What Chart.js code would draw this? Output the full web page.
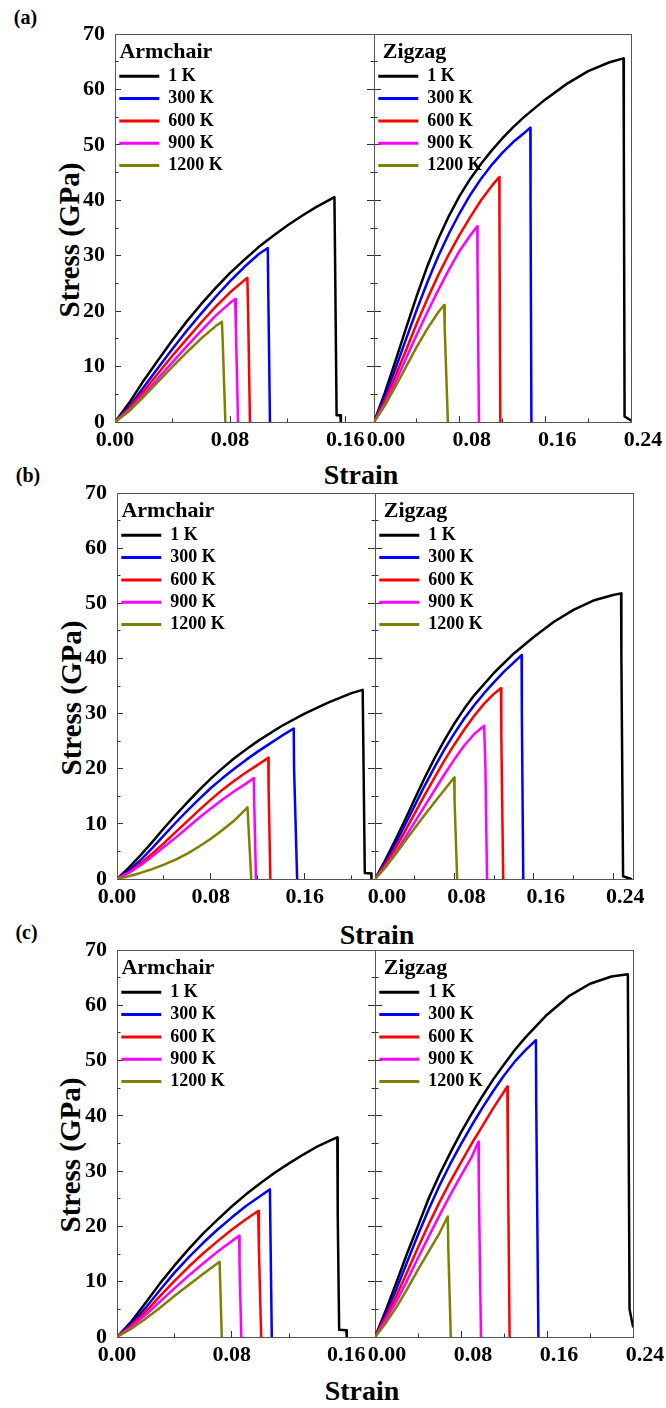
<!DOCTYPE html>
<html><head><meta charset="utf-8">
<script src="https://cdn.jsdelivr.net/npm/chart.js@4/dist/chart.umd.min.js"></script>
<style>
html,body{margin:0;padding:0;background:#fff;width:666px;height:1408px;overflow:hidden;position:relative;font-family:"Liberation Serif","Times New Roman",serif;}
canvas{position:absolute;}
.lbl{position:absolute;font-weight:bold;color:#000;white-space:nowrap;line-height:1;transform:translate(-50%,-50%);}
.rot{transform:translate(-50%,-50%) rotate(-90deg);}
</style></head><body>
<div class="lbl" style="left:25.5px;top:17px;font-size:20px">(a)</div>
<div class="lbl" style="left:28px;top:475px;font-size:20px">(b)</div>
<div class="lbl" style="left:26.5px;top:932px;font-size:20px">(c)</div>
<div class="lbl" style="left:361px;top:475px;font-size:28px">Strain</div>
<div class="lbl" style="left:377px;top:935px;font-size:28px">Strain</div>
<div class="lbl" style="left:362px;top:1391px;font-size:28px">Strain</div>
<div class="lbl rot" style="left:69px;top:240px;font-size:29px">Stress (GPa)</div>
<div class="lbl rot" style="left:71px;top:698px;font-size:29px">Stress (GPa)</div>
<div class="lbl rot" style="left:70px;top:1155px;font-size:29px">Stress (GPa)</div>
<script>
// ---------- labels & ticks ----------
const temps = ['1 K', '300 K', '600 K', '900 K', '1200 K'];
const colors = ['#000000', '#0000ff', '#ff0000', '#ff00ff', '#808000'];
const yMajor = [0, 10, 20, 30, 40, 50, 60, 70];
const yMinor = [5, 15, 25, 35, 45, 55, 65];
const xMajor018 = [0, 0.08, 0.16];
const xMinor018 = [0.04, 0.12];
const xMajor022 = [0, 0.08, 0.16];
const xMinor022 = [0.04, 0.12, 0.20];
const xMajor024 = [0, 0.08, 0.16, 0.24];
const xMinor024 = [0.04, 0.12, 0.20];
const xMajor026 = [0, 0.08, 0.16, 0.24];
const xMinor026 = [0.04, 0.12, 0.20];

// ---------- (a) Armchair: [strain, stress GPa] ----------
const aArm1K = [[0,0],[0.01,3.5],[0.02,7.5],[0.03,11.2],[0.04,14.8],[0.05,18.2],[0.06,21.3],[0.07,24.2],[0.08,26.9],[0.09,29.3],[0.10,31.6],[0.11,33.6],[0.12,35.5],[0.13,37.2],[0.14,38.8],[0.15,40.2],[0.1525,40.6],[0.1530,28],[0.1540,1.2],[0.1565,1.2],[0.1570,0]];
const aArm300K = [[0,0],[0.01,2.8],[0.02,6.3],[0.03,9.8],[0.04,13.2],[0.05,16.5],[0.06,19.6],[0.07,22.6],[0.08,25.4],[0.09,28.0],[0.10,30.3],[0.1062,31.4],[0.1065,24],[0.1077,0]];
const aArm600K = [[0,0],[0.01,2.5],[0.02,5.6],[0.03,8.8],[0.04,12.0],[0.05,15.0],[0.06,18.0],[0.07,20.8],[0.08,23.4],[0.09,25.6],[0.092,26.0],[0.0925,20],[0.0938,0]];
const aArm900K = [[0,0],[0.01,2.2],[0.02,5.0],[0.03,7.9],[0.04,10.8],[0.05,13.7],[0.06,16.5],[0.07,19.2],[0.08,21.5],[0.0835,22.2],[0.0840,17],[0.0855,0]];
const aArm1200K = [[0,0],[0.01,2.0],[0.02,4.6],[0.03,7.3],[0.04,10.0],[0.05,12.6],[0.06,15.1],[0.07,17.3],[0.0743,18.1],[0.0748,15],[0.0767,0]];
// ---------- (a) Zigzag ----------
const aZig1K = [[0,0],[0.01,5.2],[0.02,11.0],[0.03,17.0],[0.04,22.8],[0.05,28.2],[0.06,33.0],[0.07,37.2],[0.08,40.8],[0.09,43.9],[0.10,46.6],[0.11,49.0],[0.12,51.2],[0.13,53.2],[0.14,55.0],[0.16,58.2],[0.18,61.0],[0.20,63.3],[0.22,64.9],[0.233,65.6],[0.2333,50],[0.234,1],[0.24,0.3]];
const aZig300K = [[0,0],[0.01,4.5],[0.02,9.6],[0.03,15.0],[0.04,20.3],[0.05,25.3],[0.06,29.9],[0.07,34.0],[0.08,37.7],[0.09,41.0],[0.10,43.9],[0.11,46.4],[0.12,48.6],[0.13,50.5],[0.14,52.1],[0.146,53.1],[0.1462,40],[0.147,0]];
const aZig600K = [[0,0],[0.01,3.8],[0.02,8.3],[0.03,13.0],[0.04,17.8],[0.05,22.3],[0.06,26.5],[0.07,30.3],[0.08,33.8],[0.09,37.0],[0.10,40.0],[0.11,42.6],[0.117,44.2],[0.1172,35],[0.118,0]];
const aZig900K = [[0,0],[0.01,3.2],[0.02,7.2],[0.03,11.5],[0.04,15.8],[0.05,19.9],[0.06,23.8],[0.07,27.5],[0.08,30.9],[0.09,33.7],[0.0965,35.3],[0.0967,28],[0.098,0]];
const aZig1200K = [[0,0],[0.01,2.9],[0.02,6.4],[0.03,10.0],[0.04,13.6],[0.05,16.9],[0.06,19.8],[0.0655,21.1],[0.066,17],[0.069,0]];
// ---------- (b) Armchair ----------
const bArm1K = [[0,0],[0.01,2.0],[0.02,4.3],[0.03,6.7],[0.04,9.2],[0.05,11.6],[0.06,13.9],[0.07,16.1],[0.08,18.2],[0.09,20.1],[0.10,21.9],[0.11,23.5],[0.12,25.0],[0.14,27.7],[0.16,30.0],[0.18,32.0],[0.20,33.7],[0.2095,34.3],[0.2100,25],[0.2113,1.1],[0.2168,1.0],[0.2170,0]];
const bArm300K = [[0,0],[0.01,1.5],[0.02,3.4],[0.03,5.6],[0.04,7.9],[0.05,10.2],[0.06,12.4],[0.07,14.5],[0.08,16.5],[0.09,18.3],[0.10,20.0],[0.11,21.6],[0.12,23.1],[0.13,24.5],[0.14,25.9],[0.1507,27.3],[0.1510,20],[0.1536,0]];
const bArm600K = [[0,0],[0.01,1.2],[0.02,2.8],[0.03,4.6],[0.04,6.5],[0.05,8.5],[0.06,10.5],[0.07,12.5],[0.08,14.4],[0.09,16.2],[0.10,17.8],[0.11,19.3],[0.12,20.7],[0.129,22.0],[0.1293,16],[0.1308,0]];
const bArm900K = [[0,0],[0.01,1.1],[0.02,2.5],[0.03,4.1],[0.04,5.8],[0.05,7.5],[0.06,9.3],[0.07,11.1],[0.08,12.8],[0.09,14.4],[0.10,15.9],[0.11,17.3],[0.1167,18.3],[0.1170,14],[0.1185,0]];
const bArm1200K = [[0,0],[0.01,0.5],[0.02,1.1],[0.03,1.8],[0.04,2.6],[0.05,3.5],[0.06,4.6],[0.07,5.9],[0.08,7.3],[0.09,8.9],[0.10,10.6],[0.1113,13.0],[0.1120,10],[0.1145,0]];
// ---------- (b) Zigzag ----------
const bZig1K = [[0,0],[0.01,3.3],[0.02,6.9],[0.03,10.6],[0.04,14.5],[0.05,18.3],[0.06,21.9],[0.07,25.2],[0.08,28.2],[0.09,30.9],[0.10,33.3],[0.12,37.4],[0.14,40.9],[0.16,43.9],[0.18,46.6],[0.20,48.8],[0.22,50.5],[0.24,51.5],[0.248,51.8],[0.2483,40],[0.250,0.5],[0.258,0]];
const bZig300K = [[0,0],[0.01,2.9],[0.02,6.2],[0.03,9.7],[0.04,13.3],[0.05,16.9],[0.06,20.3],[0.07,23.5],[0.08,26.4],[0.09,29.1],[0.10,31.5],[0.11,33.7],[0.12,35.7],[0.13,37.6],[0.14,39.3],[0.1477,40.6],[0.1480,30],[0.1494,0]];
const bZig600K = [[0,0],[0.01,2.5],[0.02,5.4],[0.03,8.6],[0.04,11.9],[0.05,15.2],[0.06,18.4],[0.07,21.5],[0.08,24.4],[0.09,27.1],[0.10,29.6],[0.11,31.8],[0.12,33.6],[0.127,34.6],[0.1273,26],[0.1292,0]];
const bZig900K = [[0,0],[0.01,2.1],[0.02,4.6],[0.03,7.4],[0.04,10.3],[0.05,13.2],[0.06,16.1],[0.07,19.0],[0.08,21.7],[0.09,24.2],[0.10,26.3],[0.11,27.8],[0.1113,20],[0.1129,0]];
const bZig1200K = [[0,0],[0.01,2.0],[0.02,4.3],[0.03,6.8],[0.04,9.2],[0.05,11.6],[0.06,13.9],[0.07,16.2],[0.0798,18.4],[0.0802,14],[0.0828,0]];
// ---------- (c) Armchair ----------
const cArm1K = [[0,0],[0.01,2.8],[0.02,6.2],[0.03,9.7],[0.04,12.9],[0.05,15.9],[0.06,18.7],[0.07,21.2],[0.08,23.6],[0.09,25.8],[0.10,27.8],[0.11,29.7],[0.12,31.4],[0.13,33.0],[0.14,34.5],[0.15,35.7],[0.1537,36.1],[0.1540,22],[0.1550,1.3],[0.1600,1.2],[0.1603,0]];
const cArm300K = [[0,0],[0.01,2.4],[0.02,5.3],[0.03,8.5],[0.04,11.6],[0.05,14.4],[0.06,17.0],[0.07,19.4],[0.08,21.6],[0.09,23.7],[0.10,25.5],[0.1067,26.7],[0.1070,20],[0.1080,0]];
const cArm600K = [[0,0],[0.01,2.1],[0.02,4.6],[0.03,7.4],[0.04,10.1],[0.05,12.7],[0.06,15.1],[0.07,17.3],[0.08,19.4],[0.09,21.3],[0.0985,22.8],[0.0990,16],[0.1006,0]];
const cArm900K = [[0,0],[0.01,1.8],[0.02,4.0],[0.03,6.4],[0.04,8.8],[0.05,11.1],[0.06,13.3],[0.07,15.4],[0.08,17.3],[0.0852,18.3],[0.0855,13],[0.0867,0]];
const cArm1200K = [[0,0],[0.01,1.5],[0.02,3.3],[0.03,5.3],[0.04,7.4],[0.05,9.4],[0.06,11.4],[0.0716,13.6],[0.0720,10],[0.0731,0]];
// ---------- (c) Zigzag ----------
const cZig1K = [[0,0],[0.01,4.8],[0.02,9.9],[0.03,15.2],[0.04,20.1],[0.05,25.1],[0.06,29.4],[0.07,33.3],[0.08,37.0],[0.09,40.4],[0.10,43.6],[0.11,46.6],[0.12,49.3],[0.13,51.9],[0.14,54.2],[0.16,58.3],[0.18,61.6],[0.20,63.9],[0.22,65.2],[0.2352,65.6],[0.2356,50],[0.2368,5],[0.24,1.9]];
const cZig300K = [[0,0],[0.01,4.2],[0.02,8.7],[0.03,13.6],[0.04,18.5],[0.05,23.1],[0.06,27.4],[0.07,31.3],[0.08,34.9],[0.09,38.3],[0.10,41.5],[0.11,44.5],[0.12,47.3],[0.13,49.8],[0.14,51.9],[0.1497,53.7],[0.1500,42],[0.1520,0]];
const cZig600K = [[0,0],[0.01,3.6],[0.02,7.5],[0.03,11.8],[0.04,16.2],[0.05,20.4],[0.06,24.4],[0.07,28.1],[0.08,31.6],[0.09,35.0],[0.10,38.2],[0.11,41.4],[0.1231,45.3],[0.1235,35],[0.1252,0]];
const cZig900K = [[0,0],[0.01,3.0],[0.02,6.5],[0.03,10.3],[0.04,14.3],[0.05,18.2],[0.06,22.0],[0.07,25.7],[0.08,29.2],[0.09,32.6],[0.0962,35.3],[0.0966,27],[0.0986,0]];
const cZig1200K = [[0,0],[0.01,2.5],[0.02,5.4],[0.03,8.7],[0.04,12.2],[0.05,15.5],[0.06,18.8],[0.0677,21.8],[0.0682,16],[0.0705,0]];

// ---------- layout (page pixels) ----------
const FONT = "'Liberation Serif', 'Times New Roman', serif";
const FRAME = '#555555';
const TICK = '#333333';
const tickFont = {family: FONT, size: 22, weight: 'bold'};

const panels = [
  {T: 34, B: 422, L: 115, D: 374, R: 631,
   arm: [aArm1K, aArm300K, aArm600K, aArm900K, aArm1200K], armMax: 0.18, armMajor: xMajor018, armMinor: xMinor018,
   zig: [aZig1K, aZig300K, aZig600K, aZig900K, aZig1200K], zigMax: 0.24, zigMajor: xMajor024, zigMinor: xMinor024},
  {T: 493, B: 879, L: 117, D: 375, R: 633,
   arm: [bArm1K, bArm300K, bArm600K, bArm900K, bArm1200K], armMax: 0.22, armMajor: xMajor022, armMinor: xMinor022,
   zig: [bZig1K, bZig300K, bZig600K, bZig900K, bZig1200K], zigMax: 0.26, zigMajor: xMajor026, zigMinor: xMinor026},
  {T: 950, B: 1337, L: 117, D: 375, R: 633,
   arm: [cArm1K, cArm300K, cArm600K, cArm900K, cArm1200K], armMax: 0.18, armMajor: xMajor018, armMinor: xMinor018,
   zig: [cZig1K, cZig300K, cZig600K, cZig900K, cZig1200K], zigMax: 0.24, zigMajor: xMajor024, zigMinor: xMinor024}
];

const setTicks = vals => s => { s.ticks = vals.map(v => ({value: v})); };
const tickGrid = len => ({display: true, drawOnChartArea: false, drawTicks: true, tickLength: len, tickColor: TICK, tickWidth: 1});

function buildChart(p, side, series, xmax, xMajor, xMinor, title) {
  const padT = 32, axH = 40;
  const cy = p.T - padT;
  const ch = p.B - cy + axH;
  let cx, cw, pad, yW;
  if (side === 'left') { cx = 0; cw = p.D + 20; pad = {left: 0, top: padT, right: 20, bottom: 0}; yW = p.L; }
  else { cx = p.D - 40; cw = 666 - cx; pad = {left: 40, top: padT, right: 666 - p.R, bottom: 0}; yW = 0; }
  const cv = document.createElement('canvas');
  cv.width = cw; cv.height = ch;
  Object.assign(cv.style, {left: cx + 'px', top: cy + 'px', width: cw + 'px', height: ch + 'px'});
  document.body.appendChild(cv);

  const datasets = series.map((pts, i) => ({
    label: temps[i],
    data: pts.map(([x, y]) => ({x, y})),
    borderColor: colors[i], backgroundColor: colors[i], borderWidth: 2.5,
    showLine: true, pointRadius: 0, pointHoverRadius: 0, tension: 0, fill: false,
    borderJoinStyle: 'round', borderCapStyle: 'round',
    order: series.length - 1 - i, xAxisID: 'x', yAxisID: 'y'
  }));

  const scales = {
    x: {type: 'linear', axis: 'x', position: 'bottom', min: 0, max: xmax, weight: 1,
        afterBuildTicks: setTicks(xMajor), afterFit: s => { s.height = axH; },
        ticks: {autoSkip: false, maxRotation: 0, minRotation: 0, color: '#000', font: tickFont, padding: 11,
                labelOffset: side === 'right' ? 12 : 0, callback: v => Number(v).toFixed(2)},
        grid: tickGrid(-6), border: {display: true, color: FRAME, width: 1}},
    xMin: {type: 'linear', axis: 'x', position: 'bottom', min: 0, max: xmax, weight: 0,
        afterBuildTicks: setTicks(xMinor), afterFit: s => { s.height = 0; },
        ticks: {display: false}, grid: tickGrid(-3.5), border: {display: false}},
    xTop: {type: 'linear', axis: 'x', position: 'top', min: 0, max: xmax,
        afterFit: s => { s.height = 0; }, ticks: {display: false}, grid: {display: false},
        border: {display: true, color: FRAME, width: 1}},
    y: {type: 'linear', axis: 'y', position: 'left', min: 0, max: 70, weight: 1,
        afterBuildTicks: setTicks(yMajor), afterFit: s => { s.width = yW; },
        ticks: {display: side === 'left', autoSkip: false, color: '#000', font: tickFont, padding: 16, callback: v => String(v)},
        grid: tickGrid(side === 'left' ? -6 : -7), border: {display: true, color: FRAME, width: 1}},
    yMin: {type: 'linear', axis: 'y', position: 'left', min: 0, max: 70, weight: 0,
        afterBuildTicks: setTicks(yMinor), afterFit: s => { s.width = 0; },
        ticks: {display: false}, grid: tickGrid(-3.5), border: {display: false}},
    yR: {type: 'linear', axis: 'y', position: 'right', min: 0, max: 70, weight: 1,
        afterBuildTicks: setTicks(yMajor), afterFit: s => { s.width = 0; },
        ticks: {display: false}, grid: side === 'left' ? tickGrid(-7) : {display: false},
        border: {display: side === 'right', color: FRAME, width: 1}}
  };
  if (side === 'left') {
    scales.yRMin = {type: 'linear', axis: 'y', position: 'right', min: 0, max: 70, weight: 0,
        afterBuildTicks: setTicks(yMinor), afterFit: s => { s.width = 0; },
        ticks: {display: false}, grid: tickGrid(-3.5), border: {display: false}};
  }

  new Chart(cv, {
    type: 'scatter',
    data: {datasets},
    options: {
      responsive: false, animation: false, devicePixelRatio: 1, events: [],
      layout: {padding: pad},
      scales,
      plugins: {
        tooltip: {enabled: false},
        title: {display: false},
        legend: {
          display: true, position: 'chartArea', align: 'start',
          title: {display: true, text: title, position: 'start', color: '#000',
                  font: {family: FONT, size: 22, weight: 'bold', lineHeight: 1}, padding: {top: padT + 7, bottom: 0}},
          labels: {
            boxWidth: 40, boxHeight: 3, padding: 4.3, color: '#000',
            font: {family: FONT, size: 18, weight: 'bold'},
            sort: (a, b) => a.datasetIndex - b.datasetIndex,
            generateLabels: chart => Chart.defaults.plugins.legend.labels.generateLabels(chart).map(it => Object.assign(it, {lineWidth: 0}))
          }
        }
      }
    }
  });
}

panels.forEach(p => {
  buildChart(p, 'left', p.arm, p.armMax, p.armMajor, p.armMinor, '\u2009Armchair');
  buildChart(p, 'right', p.zig, p.zigMax, p.zigMajor, p.zigMinor, '\u2009\u2009Zigzag');
});
</script>
</body></html>
